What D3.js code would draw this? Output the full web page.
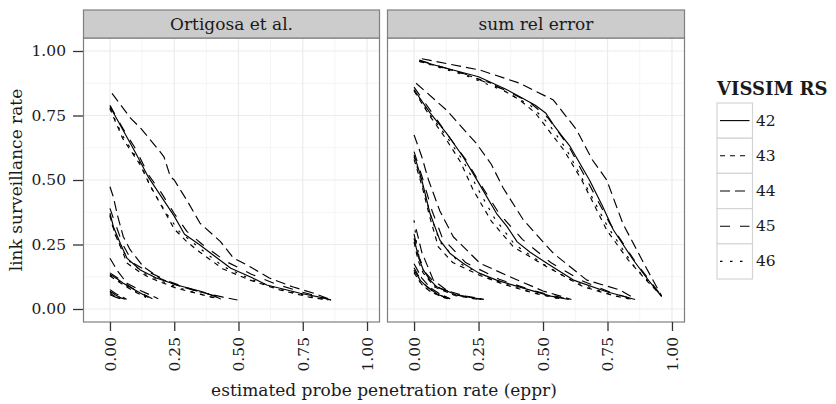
<!DOCTYPE html>
<html><head><meta charset="utf-8">
<script src="https://cdn.jsdelivr.net/npm/d3@7"></script>
<style>
body{margin:0;background:#fff;}
svg text{font-family:"DejaVu Serif",serif !important;fill:#1a1a1a;}
</style></head>
<body><svg id="c" width="836" height="404"></svg>
<script>
// ---- data ----
const facets = ["Ortigosa et al.", "sum rel error"];
const rsLevels = ["42", "43", "44", "45", "46"];
const xTicks = [0, 0.25, 0.5, 0.75, 1];
const yTicks = [0, 0.25, 0.5, 0.75, 1];
const xTickLabels = ["0.00", "0.25", "0.50", "0.75", "1.00"];
const yTickLabels = ["0.00", "0.25", "0.50", "0.75", "1.00"];

// Ortigosa et al. — group 1
const o1_42 = [[0,0.785],[0.05,0.695],[0.10,0.605],[0.15,0.51],[0.21,0.42],[0.25,0.36],[0.29,0.29],[0.35,0.248],[0.40,0.21],[0.47,0.158],[0.545,0.125],[0.61,0.093],[0.74,0.061],[0.83,0.043],[0.86,0.035]];
const o1_43 = [[0,0.78],[0.013,0.745],[0.05,0.66],[0.12,0.555],[0.15,0.49],[0.2,0.40],[0.25,0.31],[0.30,0.26],[0.35,0.22],[0.44,0.155],[0.545,0.112],[0.66,0.074],[0.78,0.045],[0.85,0.035]];
const o1_44 = [[0.008,0.836],[0.08,0.74],[0.12,0.70],[0.19,0.616],[0.21,0.59],[0.235,0.513],[0.25,0.5],[0.30,0.42],[0.35,0.333],[0.43,0.261],[0.48,0.198],[0.545,0.164],[0.62,0.12],[0.71,0.086],[0.79,0.062],[0.862,0.035]];
const o1_45 = [[0,0.79],[0.05,0.70],[0.10,0.62],[0.15,0.52],[0.20,0.45],[0.25,0.37],[0.30,0.30],[0.36,0.25],[0.45,0.185],[0.55,0.135],[0.65,0.095],[0.75,0.065],[0.86,0.035]];
const o1_46 = [[0,0.775],[0.05,0.67],[0.12,0.56],[0.16,0.47],[0.22,0.37],[0.27,0.30],[0.35,0.235],[0.44,0.165],[0.55,0.115],[0.66,0.077],[0.78,0.048],[0.85,0.035]];
// Ortigosa et al. — group 2
const o2_42 = [[0,0.372],[0.013,0.32],[0.04,0.255],[0.066,0.197],[0.118,0.151],[0.18,0.12],[0.26,0.093],[0.36,0.067],[0.43,0.04]];
const o2_43 = [[0,0.36],[0.02,0.29],[0.05,0.22],[0.066,0.178],[0.12,0.14],[0.157,0.12],[0.26,0.08],[0.34,0.06],[0.42,0.04]];
const o2_44 = [[0,0.474],[0.013,0.435],[0.03,0.36],[0.052,0.28],[0.079,0.229],[0.13,0.164],[0.196,0.118],[0.26,0.092],[0.35,0.066],[0.44,0.046],[0.496,0.035]];
const o2_45 = [[0,0.39],[0.021,0.33],[0.05,0.25],[0.09,0.178],[0.157,0.14],[0.234,0.105],[0.32,0.075],[0.43,0.045],[0.45,0.04]];
const o2_46 = [[0,0.365],[0.015,0.3],[0.045,0.235],[0.08,0.18],[0.14,0.135],[0.22,0.1],[0.3,0.072],[0.4,0.045],[0.43,0.038]];
// Ortigosa et al. — group 3
const o3_42 = [[0,0.135],[0.026,0.118],[0.052,0.1],[0.085,0.08],[0.118,0.062],[0.15,0.045]];
const o3_43 = [[0,0.128],[0.03,0.108],[0.06,0.088],[0.1,0.065],[0.14,0.045]];
const o3_44 = [[0,0.197],[0.027,0.151],[0.066,0.1],[0.118,0.072],[0.188,0.04]];
const o3_45 = [[0,0.14],[0.03,0.12],[0.06,0.098],[0.1,0.072],[0.135,0.055],[0.165,0.04]];
const o3_46 = [[0,0.132],[0.03,0.11],[0.07,0.085],[0.11,0.062],[0.145,0.045]];
// Ortigosa et al. — group 4
const o4_42 = [[0,0.07],[0.02,0.055],[0.045,0.042],[0.06,0.038]];
const o4_43 = [[0,0.06],[0.02,0.05],[0.04,0.04]];
const o4_44 = [[0,0.075],[0.025,0.058],[0.05,0.045],[0.065,0.038]];
const o4_45 = [[0,0.055],[0.02,0.047],[0.04,0.04]];
const o4_46 = [[0,0.065],[0.025,0.05],[0.05,0.04]];

// sum rel error — group 1
const s1_42 = [[0.021,0.962],[0.1,0.94],[0.25,0.90],[0.35,0.855],[0.41,0.823],[0.47,0.79],[0.51,0.76],[0.54,0.715],[0.57,0.675],[0.605,0.63],[0.68,0.50],[0.73,0.40],[0.773,0.306],[0.85,0.19],[0.91,0.11],[0.96,0.048]];
const s1_43 = [[0.02,0.96],[0.15,0.925],[0.3,0.875],[0.41,0.81],[0.47,0.76],[0.58,0.617],[0.65,0.50],[0.747,0.306],[0.83,0.19],[0.9,0.112],[0.96,0.05]];
const s1_44 = [[0.03,0.97],[0.256,0.926],[0.41,0.875],[0.54,0.81],[0.63,0.695],[0.69,0.58],[0.747,0.50],[0.81,0.33],[0.90,0.16],[0.96,0.05]];
const s1_45 = [[0.02,0.965],[0.2,0.91],[0.35,0.85],[0.45,0.8],[0.52,0.74],[0.6,0.63],[0.67,0.5],[0.76,0.33],[0.86,0.18],[0.96,0.05]];
const s1_46 = [[0.02,0.96],[0.2,0.905],[0.35,0.845],[0.45,0.79],[0.52,0.72],[0.59,0.62],[0.66,0.49],[0.75,0.32],[0.85,0.17],[0.96,0.05]];
// sum rel error — group 2
const s2_42 = [[0,0.85],[0.062,0.76],[0.127,0.68],[0.19,0.59],[0.25,0.49],[0.32,0.37],[0.36,0.32],[0.40,0.26],[0.45,0.22],[0.515,0.177],[0.618,0.112],[0.747,0.067],[0.857,0.037]];
const s2_43 = [[0,0.845],[0.06,0.75],[0.12,0.665],[0.18,0.57],[0.23,0.46],[0.30,0.34],[0.385,0.241],[0.514,0.164],[0.656,0.086],[0.78,0.05],[0.85,0.037]];
const s2_44 = [[0.008,0.875],[0.127,0.77],[0.243,0.64],[0.30,0.56],[0.345,0.47],[0.424,0.345],[0.54,0.216],[0.67,0.112],[0.80,0.073],[0.857,0.04]];
const s2_45 = [[0,0.86],[0.07,0.76],[0.13,0.675],[0.2,0.58],[0.26,0.48],[0.33,0.37],[0.42,0.27],[0.53,0.18],[0.65,0.11],[0.76,0.065],[0.85,0.038]];
const s2_46 = [[0,0.85],[0.06,0.755],[0.125,0.67],[0.19,0.575],[0.245,0.47],[0.31,0.355],[0.39,0.25],[0.5,0.175],[0.62,0.105],[0.75,0.06],[0.84,0.037]];
// sum rel error — group 3
const s3_42 = [[0,0.597],[0.015,0.55],[0.03,0.5],[0.062,0.37],[0.1,0.267],[0.14,0.215],[0.19,0.177],[0.25,0.14],[0.32,0.112],[0.45,0.073],[0.53,0.05],[0.6,0.037]];
const s3_43 = [[0,0.58],[0.03,0.48],[0.06,0.36],[0.094,0.241],[0.15,0.18],[0.256,0.13],[0.35,0.095],[0.47,0.06],[0.58,0.037]];
const s3_44 = [[0,0.675],[0.03,0.59],[0.056,0.50],[0.1,0.38],[0.152,0.28],[0.256,0.177],[0.385,0.119],[0.5,0.07],[0.61,0.037]];
const s3_45 = [[0,0.61],[0.035,0.5],[0.07,0.38],[0.11,0.275],[0.2,0.18],[0.33,0.115],[0.46,0.072],[0.6,0.037]];
const s3_46 = [[0,0.59],[0.03,0.49],[0.065,0.36],[0.1,0.26],[0.18,0.175],[0.3,0.115],[0.43,0.072],[0.57,0.037]];
// sum rel error — group 4
const s4_42 = [[0,0.274],[0.017,0.2],[0.036,0.151],[0.06,0.115],[0.088,0.086],[0.165,0.054],[0.27,0.037]];
const s4_43 = [[0,0.26],[0.015,0.19],[0.035,0.14],[0.08,0.085],[0.16,0.052],[0.25,0.037]];
const s4_44 = [[0.008,0.31],[0.03,0.22],[0.075,0.112],[0.13,0.07],[0.2,0.05],[0.27,0.038]];
const s4_45 = [[0,0.29],[0.02,0.2],[0.045,0.14],[0.1,0.08],[0.18,0.052],[0.26,0.037]];
const s4_46 = [[0,0.344],[0.01,0.25],[0.03,0.16],[0.07,0.095],[0.15,0.056],[0.25,0.037]];
// sum rel error — group 5
const s5_42 = [[0,0.151],[0.025,0.11],[0.05,0.086],[0.09,0.058],[0.13,0.04]];
const s5_43 = [[0,0.14],[0.03,0.095],[0.06,0.07],[0.1,0.05],[0.13,0.04]];
const s5_44 = [[0,0.175],[0.03,0.12],[0.06,0.085],[0.1,0.058],[0.14,0.04]];
const s5_45 = [[0,0.16],[0.03,0.105],[0.07,0.07],[0.11,0.05],[0.14,0.04]];
const s5_46 = [[0,0.145],[0.025,0.1],[0.06,0.07],[0.1,0.05],[0.13,0.04]];

const ortigosaCurves = [o1_42,o1_43,o1_44,o1_45,o1_46, o2_42,o2_43,o2_44,o2_45,o2_46,
                        o3_42,o3_43,o3_44,o3_45,o3_46, o4_42,o4_43,o4_44,o4_45,o4_46];
const sumRelCurves = [s1_42,s1_43,s1_44,s1_45,s1_46, s2_42,s2_43,s2_44,s2_45,s2_46,
                      s3_42,s3_43,s3_44,s3_45,s3_46, s4_42,s4_43,s4_44,s4_45,s4_46,
                      s5_42,s5_43,s5_44,s5_45,s5_46];

// ---- layout ----
const svg = d3.select("#c");
const panels = [{x0:83, x1:380}, {x0:387, x1:685}];
const pTop = 38, pBot = 322, stripTop = 10;
const dashes = {"42":null, "43":"5,5", "44":"10,5", "45":"10,10", "46":"2.5,7.5"};
const y = d3.scaleLinear().domain([-0.0504, 1.0504]).range([pBot, pTop]);
const FS = 17, TFS = 15.5;

const curveSets = [ortigosaCurves, sumRelCurves];

panels.forEach((p, fi) => {
  const x = d3.scaleLinear().domain([-0.1049, 1.0505]).range([p.x0, p.x1]);
  const g = svg.append("g");
  g.append("rect").attr("x", p.x0).attr("y", pTop).attr("width", p.x1-p.x0).attr("height", pBot-pTop).attr("fill", "#fff");
  const minor = [0.125, 0.375, 0.625, 0.875];
  g.selectAll(".mgx").data(minor).join("line").attr("x1", d=>x(d)).attr("x2", d=>x(d)).attr("y1", pTop).attr("y2", pBot).attr("stroke", "#f5f5f5").attr("stroke-width", 1);
  g.selectAll(".mgy").data(minor).join("line").attr("y1", d=>y(d)).attr("y2", d=>y(d)).attr("x1", p.x0).attr("x2", p.x1).attr("stroke", "#f5f5f5").attr("stroke-width", 1);
  g.selectAll(".gx").data(xTicks).join("line").attr("x1", d=>x(d)).attr("x2", d=>x(d)).attr("y1", pTop).attr("y2", pBot).attr("stroke", "#ebebeb").attr("stroke-width", 1.2);
  g.selectAll(".gy").data(yTicks).join("line").attr("y1", d=>y(d)).attr("y2", d=>y(d)).attr("x1", p.x0).attr("x2", p.x1).attr("stroke", "#ebebeb").attr("stroke-width", 1.2);

  const line = d3.line().x(d=>x(d[0])).y(d=>y(d[1]));
  const cg = g.append("g");
  curveSets[fi].forEach((pts, i) => {
    const rs = rsLevels[i % 5];
    cg.append("path").attr("d", line(pts)).attr("fill", "none").attr("stroke", "#000")
      .attr("stroke-width", 1.15).attr("stroke-dasharray", dashes[rs]).attr("stroke-linejoin", "round");
  });

  g.append("rect").attr("x", p.x0+0.5).attr("y", pTop).attr("width", p.x1-p.x0-1).attr("height", pBot-pTop)
    .attr("fill", "none").attr("stroke", "#7f7f7f").attr("stroke-width", 1.2);
  g.append("rect").attr("x", p.x0+0.5).attr("y", stripTop).attr("width", p.x1-p.x0-1).attr("height", pTop-stripTop)
    .attr("fill", "#cccccc").attr("stroke", "#7f7f7f").attr("stroke-width", 1.2);
  g.append("text").attr("x", (p.x0+p.x1)/2).attr("y", (stripTop+pTop)/2).attr("text-anchor", "middle")
    .attr("dominant-baseline", "central").attr("font-size", FS).text(facets[fi]);

  const xa = g.append("g").attr("transform", `translate(0,${pBot})`)
    .call(d3.axisBottom(x).tickValues(xTicks).tickFormat((d,i)=>xTickLabels[i]).tickSize(9).tickPadding(6));
  xa.select(".domain").remove();
  xa.selectAll(".tick line").attr("stroke", "#333").attr("stroke-width", 1.3);
  xa.selectAll(".tick text").attr("font-size", TFS).attr("fill", "#1a1a1a")
    .attr("transform", "rotate(-90)").attr("text-anchor", "end").attr("dy", "0.35em").attr("x", -15).attr("y", 0);

  if (fi === 0) {
    const ya = g.append("g").attr("transform", `translate(${p.x0},0)`)
      .call(d3.axisLeft(y).tickValues(yTicks).tickFormat((d,i)=>yTickLabels[i]).tickSize(10).tickPadding(7));
    ya.select(".domain").remove();
    ya.selectAll(".tick line").attr("stroke", "#333").attr("stroke-width", 1.3);
    ya.selectAll(".tick text").attr("font-size", TFS).attr("fill", "#1a1a1a");
  }
});

svg.append("text").attr("x", (panels[0].x0 + panels[1].x1)/2).attr("y", 390).attr("text-anchor", "middle")
  .attr("dominant-baseline", "central").attr("font-size", FS).text("estimated probe penetration rate (eppr)");
svg.append("text").attr("transform", `translate(16,${(pTop+pBot)/2}) rotate(-90)`).attr("text-anchor", "middle")
  .attr("dominant-baseline", "central").attr("font-size", FS).text("link surveillance rate");

const lg = svg.append("g");
lg.append("text").attr("x", 717).attr("y", 95).attr("font-size", 18).attr("font-weight", "bold").text("VISSIM RS");
const keyH = 35.2, keyTop = 103, keyX = 717, keyW = 35.5;
rsLevels.forEach((rs, i) => {
  const ky = keyTop + i*keyH;
  lg.append("rect").attr("x", keyX).attr("y", ky).attr("width", keyW).attr("height", keyH)
    .attr("fill", "#fff").attr("stroke", "#d4d4d4").attr("stroke-width", 1.2);
  lg.append("line").attr("x1", keyX+3).attr("x2", keyX+keyW-3).attr("y1", ky+keyH/2).attr("y2", ky+keyH/2)
    .attr("stroke", "#000").attr("stroke-width", 1.1).attr("stroke-dasharray", dashes[rs]);
  lg.append("text").attr("x", 756).attr("y", ky+keyH/2).attr("dominant-baseline", "central")
    .attr("font-size", TFS).text(rs);
});
</script></body></html>
